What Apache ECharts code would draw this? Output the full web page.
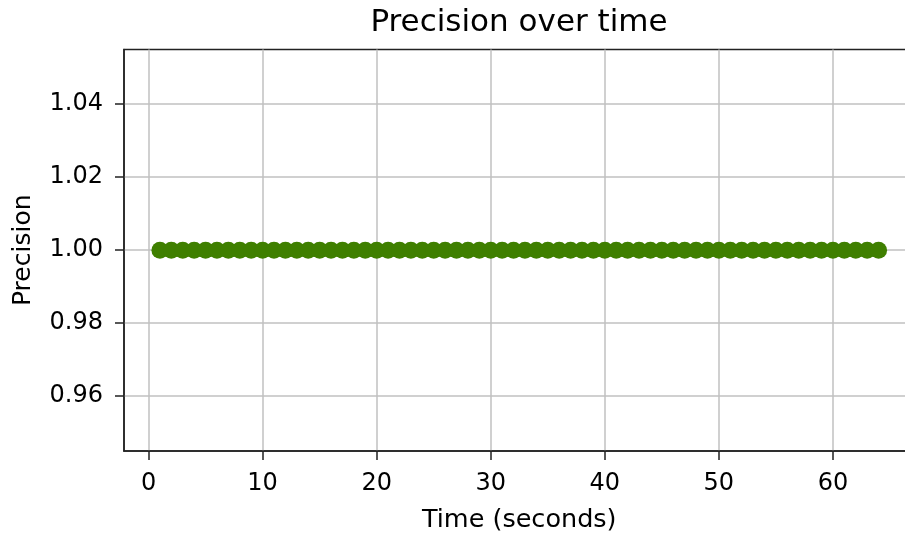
<!DOCTYPE html>
<html>
<head>
<meta charset="utf-8">
<script src="https://cdn.jsdelivr.net/npm/echarts@6/dist/echarts.min.js"></script>
<style>html,body{margin:0;padding:0;background:#fff;}#c{width:905px;height:535px;}</style>
</head>
<body>
<div id="c"></div>
<script>
const time = [1,2,3,4,5,6,7,8,9,10,11,12,13,14,15,16,17,18,19,20,21,22,23,24,25,26,27,28,29,30,31,32,33,34,35,36,37,38,39,40,41,42,43,44,45,46,47,48,49,50,51,52,53,54,55,56,57,58,59,60,61,62,63,64];
const precision = [1,1,1,1,1,1,1,1,1,1,1,1,1,1,1,1,1,1,1,1,1,1,1,1,1,1,1,1,1,1,1,1,1,1,1,1,1,1,1,1,1,1,1,1,1,1,1,1,1,1,1,1,1,1,1,1,1,1,1,1,1,1,1,1];
const xTicks = [0,10,20,30,40,50,60];
const yTicks = [0.96,0.98,1.00,1.02,1.04];

const chart = echarts.init(document.getElementById('c'), null, {renderer:'canvas'});
const font = 'DejaVu Sans';
chart.setOption({
  animation: false,
  title: {
    text: 'Precision over time',
    left: 514, top: 2, textAlign: 'center',
    textStyle: {fontFamily: font, fontSize: 31, fontWeight: 'normal', color: '#000'}
  },
  grid: {left: 124, top: 49.5, width: 790.5, height: 401.5, outerBoundsMode: 'none', containLabel: false,
    show: true, borderColor: '#222', borderWidth: 1.5, backgroundColor: 'transparent'},
  xAxis: {
    type: 'value', min: -2.15, max: 67.15,
    name: 'Time (seconds)', nameLocation: 'middle', nameGap: 56,
    nameTextStyle: {fontFamily: font, fontSize: 25.5, color: '#000'},
    axisLine: {show: true, onZero: false, lineStyle: {color: '#222', width: 1.5}},
    axisTick: {show: true, length: 9, customValues: xTicks, lineStyle: {color: '#222', width: 1.5}},
    axisLabel: {customValues: xTicks, margin: 21, fontFamily: font, fontSize: 24, color: '#000'},
    splitLine: {show: true, lineStyle: {color: '#c0c0c0', width: 1.5}}
  },
  yAxis: {
    type: 'value', min: 0.945, max: 1.055,
    name: 'Precision', nameLocation: 'middle', nameGap: 88,
    nameTextStyle: {fontFamily: font, fontSize: 25, color: '#000'},
    axisLine: {show: true, onZero: false, lineStyle: {color: '#222', width: 1.5}},
    axisTick: {show: true, length: 9, customValues: yTicks, lineStyle: {color: '#222', width: 1.5}},
    axisLabel: {customValues: yTicks, margin: 21, fontFamily: font, fontSize: 24, color: '#000',
      formatter: v => v.toFixed(2)},
    splitLine: {show: true, lineStyle: {color: '#c0c0c0', width: 1.5}}
  },
  series: [{
    type: 'line',
    data: time.map((t, i) => [t, precision[i]]),
    symbol: 'circle', symbolSize: 17, showSymbol: true,
    itemStyle: {color: '#3f7f00'},
    lineStyle: {color: '#3f7f00', width: 2}
  }]
});
</script>
</body>
</html>
